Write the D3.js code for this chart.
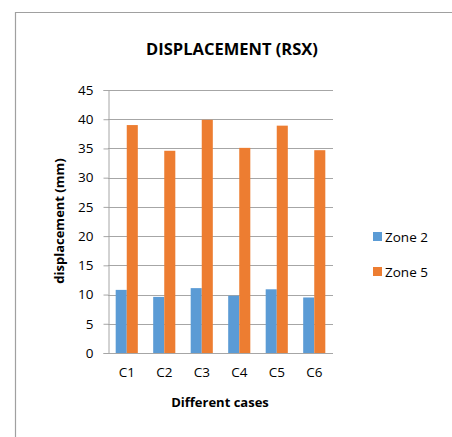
<!DOCTYPE html>
<html><head><meta charset="utf-8">
<script src="https://cdn.jsdelivr.net/npm/d3@7"></script>
<style>body{margin:0;background:#fff}svg{display:block;font-family:"Open Sans","Liberation Sans",sans-serif}</style>
</head><body><svg id="c" width="452" height="437"></svg>
<script>
const categories = ["C1","C2","C3","C4","C5","C6"];
const seriesNames = ["Zone 2","Zone 5"];
const zone2 = [10.8, 9.6, 11.1, 9.8, 10.9, 9.5];
const zone5 = [39.0, 34.6, 39.9, 35.1, 38.9, 34.7];
const yTicks = [0,5,10,15,20,25,30,35,40,45];
const colors = ["#5b9bd5","#ed7d31"];

const svg = d3.select("#c");
const m = {left:108, right:333, top:90, bottom:353};

// frame
svg.append("path").attr("d","M15.5,437 L15.5,12.5 L452,12.5").attr("fill","none").attr("stroke","#a0a0a0").attr("stroke-width",1.2);

const x = d3.scaleBand().domain(categories).range([m.left,m.right]).paddingInner(0.41).paddingOuter(0.205);
const xs = d3.scaleBand().domain(seriesNames).range([0,x.bandwidth()]);
const y = d3.scaleLinear().domain([0,45]).range([m.bottom,m.top]);

// gridlines
svg.append("g").selectAll("line").data(yTicks.filter(d=>d>0)).join("line")
  .attr("x1",m.left).attr("x2",m.right).attr("y1",d=>Math.round(y(d))+0.5).attr("y2",d=>Math.round(y(d))+0.5)
  .attr("stroke","#a6a6a6").attr("stroke-width",1);

// bars
const data = [zone2, zone5];
const g = svg.append("g");
seriesNames.forEach((s,si)=>{
  g.selectAll(null).data(categories).join("rect")
    .attr("x",(c)=>x(c)+xs(s)).attr("width",xs.bandwidth())
    .attr("y",(c,i)=>y(data[si][i])).attr("height",(c,i)=>y(0)-y(data[si][i]))
    .attr("fill",colors[si]);
});

// y axis
const yAxis = d3.axisLeft(y).tickValues(yTicks).tickSize(5).tickPadding(10);
const ya = svg.append("g").attr("transform",`translate(${m.left+0.5},0)`).call(yAxis);
ya.select(".domain").attr("stroke","#a6a6a6");
ya.selectAll(".tick line").attr("stroke","#a6a6a6");
ya.selectAll("text").attr("font-size",13.5).attr("fill","#000").attr("font-family","'Open Sans',sans-serif");

// x axis
const xAxis = d3.axisBottom(x).tickSize(0).tickPadding(14);
const xa = svg.append("g").attr("transform",`translate(0,${m.bottom+0.5})`).call(xAxis);
xa.select(".domain").attr("stroke","#a6a6a6").attr("d",`M${m.left},0H${m.right}`);
xa.selectAll("text").attr("font-size",13.5).attr("fill","#000").attr("font-family","'Open Sans',sans-serif");

// title
svg.append("text").attr("x",232).attr("y",55).attr("text-anchor","middle")
  .attr("font-weight","bold").attr("font-size",16.5).text("DISPLACEMENT (RSX)");
// axis titles
svg.append("text").attr("x",220).attr("y",407).attr("text-anchor","middle")
  .attr("font-weight","bold").attr("font-size",13).text("Different cases");
svg.append("text").attr("transform","translate(64,221) rotate(-90)").attr("text-anchor","middle")
  .attr("font-weight","bold").attr("font-size",13).text("displacement (mm)");

// legend
const lg = svg.append("g");
seriesNames.forEach((s,i)=>{
  const yy = 232 + i*35;
  lg.append("rect").attr("x",373).attr("y",yy).attr("width",9).attr("height",9).attr("fill",colors[i]);
  lg.append("text").attr("x",385).attr("y",yy+9.5).attr("font-size",13.5).text(s);
});
</script></body></html>
